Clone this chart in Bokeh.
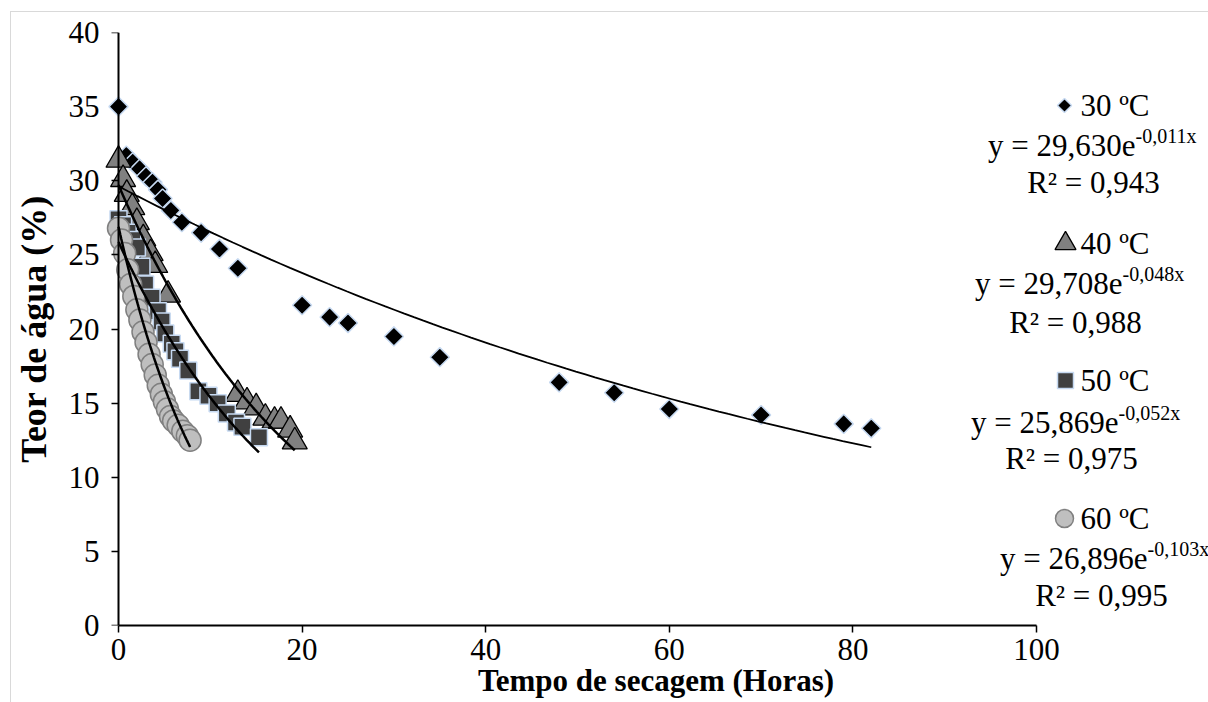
import numpy as np
from bokeh.plotting import figure
from bokeh.models import Range1d, FixedTicker, Label, LinearAxis
from bokeh.embed import file_html
from bokeh.resources import INLINE

# ---------------- data ----------------
x30 = [0, 0.85, 1.55, 2.3, 3.0, 3.7, 4.3, 4.8, 5.7, 6.9, 9, 11, 13, 20, 23, 25, 30, 35, 48, 54, 60, 70, 79, 82]
y30 = [35.0, 31.7, 31.25, 30.8, 30.3, 29.9, 29.4, 28.8, 28.0, 27.2, 26.5, 25.4, 24.1, 21.6, 20.8, 20.4, 19.5, 18.1, 16.4, 15.7, 14.6, 14.2, 13.6, 13.3]

x40 = [0, 0.5, 0.9, 1.5, 2.0, 2.7, 3.5, 4.0, 5.4, 13, 14, 15, 16, 17, 17.7, 18.7, 19.2]
y40 = [31.4, 30.1, 29.1, 28.2, 27.2, 26.1, 25.1, 24.3, 22.3, 15.6, 15.1, 14.7, 14.0, 13.8, 13.8, 13.2, 12.4]

x50 = [0, 0.5, 1.0, 1.5, 2.0, 2.5, 2.9, 3.6, 4.3, 4.7, 5.1, 5.8, 6.2, 6.7, 7.6, 8.7, 9.8, 10.8, 11.8, 12.8, 13.5, 15.3]
y50 = [27.4, 27.0, 26.5, 26.0, 25.5, 24.2, 23.0, 22.1, 21.2, 20.5, 19.7, 19.0, 18.5, 18.0, 17.2, 15.8, 15.5, 15.0, 14.3, 13.7, 13.4, 12.7]

x60 = [0, 0.33, 0.67, 1.0, 1.33, 1.67, 2.0, 2.33, 2.67, 3.0, 3.33, 3.67, 4.0, 4.33, 4.67, 5.0, 5.33, 5.67, 6.0, 6.5, 7.0, 7.5, 7.8]
y60 = [26.8, 26.0, 25.1, 24.0, 23.0, 22.2, 21.3, 20.6, 19.8, 19.1, 18.3, 17.6, 16.9, 16.2, 15.6, 15.1, 14.6, 14.1, 13.8, 13.5, 13.1, 12.8, 12.5]

series_names = ["30 ºC", "40 ºC", "50 ºC", "60 ºC"]
fit_a = [29.630, 29.708, 25.869, 26.896]
fit_b = [-0.011, -0.048, -0.052, -0.103]
eq_main = ["y = 29,630e", "y = 29,708e", "y = 25,869e", "y = 26,896e"]
eq_sup = ["-0,011x", "-0,048x", "-0,052x", "-0,103x"]
r2_text = ["R² = 0,943", "R² = 0,988", "R² = 0,975", "R² = 0,995"]

x_ticks = [0, 20, 40, 60, 80, 100]
y_ticks = [0, 5, 10, 15, 20, 25, 30, 35, 40]
x_title = "Tempo de secagem (Horas)"
y_title = "Teor de água (%)"

# ---------------- layout (pixels) ----------------
W, H = 1208, 702
X0 = 118                       # pixel of x = 0
FL, FT, FB = 103, 32, 625      # frame left / top / bottom
X100 = 1036                    # pixel of x = 100
xs = (X100 - X0) / 100.0
ys = (FB - FT) / 40.0
x_start = -(X0 - FL) / xs
x_end = (W - X0) / xs

def dx(px):
    return (px - X0) / xs

def dy(py):
    return (FB - py) / ys

FONT = "Liberation Serif"

p = figure(width=W, height=H, title=None,
           x_range=Range1d(x_start, x_end), y_range=Range1d(0, 40),
           output_backend="svg", toolbar_location=None,
           min_border_left=FL, min_border_right=0,
           min_border_top=FT, min_border_bottom=H - FB)
p.grid.visible = False
p.outline_line_color = None
p.border_fill_color = None
p.background_fill_color = None
p.styles = {"background": "linear-gradient(#d9d9d9,#d9d9d9) 10px 11px / 1px 100% no-repeat, "
                          "linear-gradient(#d9d9d9,#d9d9d9) 10px 11px / 100% 1px no-repeat, #ffffff"}

def style_axis(ax):
    ax.axis_line_width = 2
    ax.axis_line_color = "black"
    ax.major_tick_line_width = 1.5
    ax.major_tick_line_color = "black"
    ax.major_tick_in = 0
    ax.major_tick_out = 7
    ax.minor_tick_out = 0
    ax.minor_tick_in = 0
    ax.major_label_text_font = FONT
    ax.major_label_text_font_size = "31px"
    ax.major_label_text_color = "black"
    ax.axis_label_text_font = FONT
    ax.axis_label_text_font_size = "31px"
    ax.axis_label_text_font_style = "bold"
    ax.axis_label_text_color = "black"

xa = p.xaxis[0]
style_axis(xa)
xa.bounds = (0, 100)
xa.ticker = FixedTicker(ticks=x_ticks)
xa.major_label_standoff = 6
xa.axis_label = x_title
xa.axis_label_standoff = 0

# left axis in its panel: carries the tick labels and the title
ya = p.yaxis[0]
style_axis(ya)
ya.ticker = FixedTicker(ticks=y_ticks)
ya.axis_line_color = None
ya.major_tick_line_color = None
ya.major_tick_out = 0
ya.major_label_standoff = 4
ya.axis_label = y_title
ya.axis_label_text_font_size = "36px"
ya.axis_label_standoff = 12

# axis line and ticks drawn at x = 0
ya2 = LinearAxis(ticker=FixedTicker(ticks=y_ticks), fixed_location=0)
style_axis(ya2)
ya2.major_label_overrides = {t: "" for t in y_ticks}
ya2.major_label_standoff = 0
p.add_layout(ya2, "left")

# ---------------- markers ----------------
p.scatter(x30, y30, marker="square", angle=np.pi / 4, size=13.5,
          fill_color="black", line_color="#c6d9f1", line_width=1.5)
p.scatter(x40, y40, marker="triangle", size=25,
          fill_color="#808080", line_color="black", line_width=1.3)
p.scatter(x50, y50, marker="square", size=17,
          fill_color="#404040", line_color="#c6d9f1", line_width=1.5)
p.scatter(x60, y60, marker="circle", size=22,
          fill_color="#bfbfbf", line_color="#808080", line_width=1.5)

# ---------------- exponential trend lines (from the shown equations) ----------------
xs_all = [x30, x40, x50, x60]
widths = [1.75, 2.5, 2.5, 2.5]
for xv, a, b, lw in zip(xs_all, fit_a, fit_b, widths):
    t = np.linspace(0, max(xv), 80)
    p.line(t, a * np.exp(b * t), line_color="black", line_width=lw)

# ---------------- legend block (right side) ----------------
leg_mark_px = [(1064, 105), (1065, 243), (1065, 380), (1064, 518)]
p.scatter([dx(leg_mark_px[0][0])], [dy(leg_mark_px[0][1])], marker="square", angle=np.pi / 4,
          size=10, fill_color="black", line_color="#c6d9f1", line_width=1.5)
p.scatter([dx(leg_mark_px[1][0])], [dy(leg_mark_px[1][1])], marker="triangle", size=21,
          fill_color="#808080", line_color="black", line_width=1.3)
p.scatter([dx(leg_mark_px[2][0])], [dy(leg_mark_px[2][1])], marker="square", size=16,
          fill_color="#404040", line_color="#c6d9f1", line_width=1.5)
p.scatter([dx(leg_mark_px[3][0])], [dy(leg_mark_px[3][1])], marker="circle", size=18,
          fill_color="#bfbfbf", line_color="#808080", line_width=1.5)

name_y = [105, 243, 380, 518]
eq_right = [1135, 1122, 1118, 1147]
eq_y = [145, 283, 422, 558]
r2_cx = [1093, 1075, 1071, 1101]
r2_y = [182, 322, 458, 595]

def lab(text, px, py, size, align="left"):
    p.add_layout(Label(x=dx(px), y=dy(py), text=text, text_font=FONT,
                       text_font_size=size, text_align=align, text_baseline="middle",
                       text_color="black"))

for i in range(4):
    lab(series_names[i], 1080, name_y[i], "31px")
    lab(eq_main[i], eq_right[i], eq_y[i], "31px", align="right")
    lab(eq_sup[i], eq_right[i], eq_y[i] - 10, "20px", align="left")
    lab(r2_text[i], r2_cx[i], r2_y[i], "31px", align="center")

open("out.html", "w").write(file_html(p, INLINE))
